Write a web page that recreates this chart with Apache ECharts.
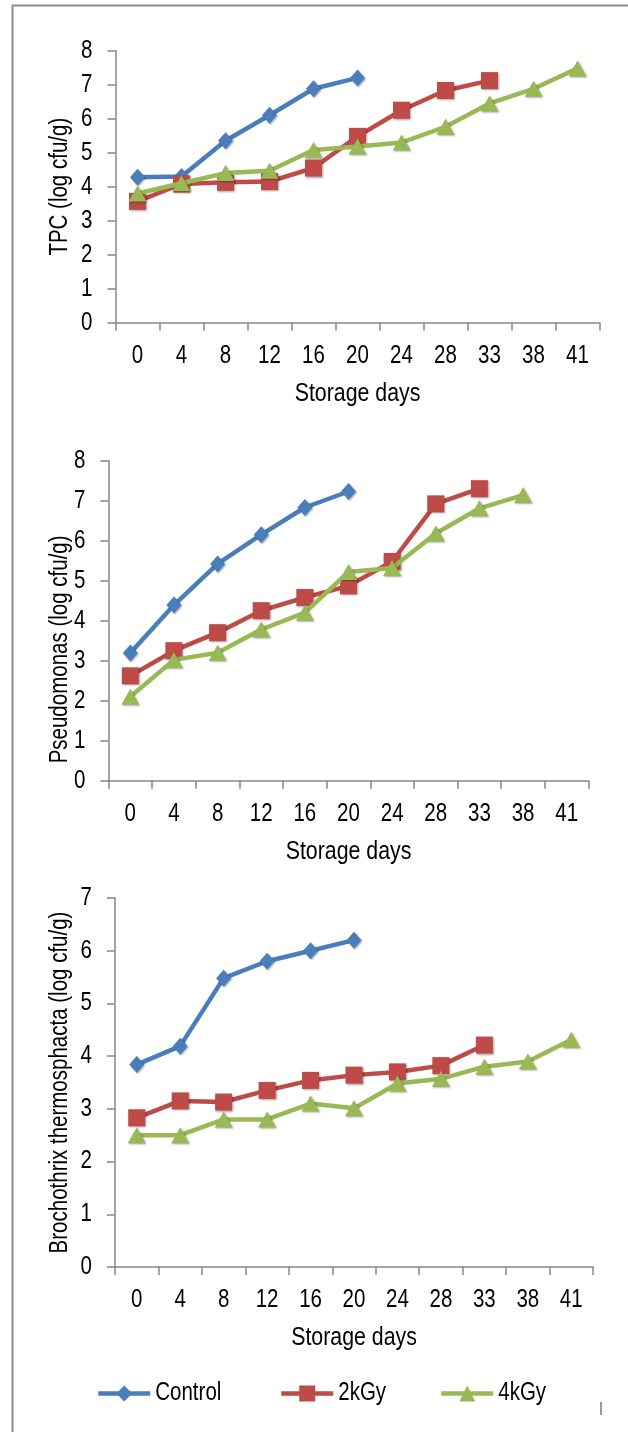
<!DOCTYPE html>
<html>
<head>
<meta charset="utf-8">
<script src="https://cdn.jsdelivr.net/npm/echarts@6/dist/echarts.min.js"></script>
<style>
html,body{margin:0;padding:0;background:#fff;}
#c{width:628px;height:1432px;}
</style>
</head>
<body>
<div id="c"></div>
<script>
// ---- data ----
const days = ['0','4','8','12','16','20','24','28','33','38','41'];
const seriesNames = ['Control','2kGy','4kGy'];

const tpcControl = [4.28, 4.30, 5.35, 6.10, 6.88, 7.20];
const tpc2kGy    = [3.57, 4.08, 4.13, 4.15, 4.55, 5.48, 6.25, 6.83, 7.12];
const tpc4kGy    = [3.80, 4.10, 4.40, 4.47, 5.08, 5.18, 5.30, 5.76, 6.45, 6.88, 7.48];

const psControl = [3.19, 4.39, 5.42, 6.15, 6.83, 7.23];
const ps2kGy    = [2.62, 3.25, 3.70, 4.25, 4.58, 4.87, 5.48, 6.92, 7.30];
const ps4kGy    = [2.10, 3.02, 3.20, 3.78, 4.20, 5.22, 5.32, 6.18, 6.81, 7.14];

const btControl = [3.84, 4.19, 5.48, 5.80, 6.00, 6.20];
const bt2kGy    = [2.83, 3.15, 3.13, 3.35, 3.54, 3.64, 3.70, 3.82, 4.21];
const bt4kGy    = [2.50, 2.50, 2.80, 2.80, 3.10, 3.01, 3.48, 3.57, 3.80, 3.90, 4.31];

const yTitles = ['TPC (log cfu/g)', 'Pseudomonas (log cfu/g)', 'Brochothrix thermosphacta (log cfu/g)'];
const xTitle = 'Storage days';
const yMax = [8, 8, 7];

// ---- styles ----
const FONT = "'Liberation Sans', Arial, sans-serif";
const FS = 25;
const AX = '#868686';
const colors = ['#4a7ebb', '#be4b48', '#98b954'];
const symbols = ['diamond', 'rect', 'triangle'];
const symSizes = [[15,17],[17,17],[18,16]];
const yNamePad = [[0,0,0,0],[0,70,0,0],[0,0,0,0]];
const yNameGap = [43, 36, 42.5];

const grids = [
  {left:115.5, width:484, top:50.7, height:272},
  {left:108.5, width:480, top:460.7, height:320},
  {left:115, width:478, top:898, height:369}
];

const xAxes = [], yAxes = [], series = [];
const dataSets = [[tpcControl,tpc2kGy,tpc4kGy],[psControl,ps2kGy,ps4kGy],[btControl,bt2kGy,bt4kGy]];

for (let g = 0; g < 3; g++) {
  xAxes.push({
    type:'category', gridIndex:g, data:days, boundaryGap:true,
    name:xTitle, nameLocation:'middle', nameGap:58, nameMoveOverlap:false,
    nameTextStyle:{fontFamily:FONT, fontSize:26, color:'#000'},
    axisLine:{lineStyle:{color:AX, width:1.5}},
    axisTick:{show:true, length:8, inside:false, lineStyle:{color:AX, width:1.5}},
    axisLabel:{fontFamily:FONT, fontSize:FS, color:'#000', margin:21, interval:0},
    splitLine:{show:false}
  });
  yAxes.push({
    type:'value', gridIndex:g, min:0, max:yMax[g], interval:1,
    name:yTitles[g], nameLocation:'middle', nameGap:yNameGap[g], nameRotate:90, nameMoveOverlap:false,
    nameTextStyle:{fontFamily:FONT, fontSize:FS, color:'#000', padding:yNamePad[g]},
    axisLine:{show:true, lineStyle:{color:AX, width:1.5}},
    axisTick:{show:true, length:8, lineStyle:{color:AX, width:1.5}},
    axisLabel:{fontFamily:FONT, fontSize:FS, color:'#000', margin:23},
    splitLine:{show:false}
  });
  for (let s = 0; s < 3; s++) {
    series.push({
      name:seriesNames[s], type:'line', xAxisIndex:g, yAxisIndex:g,
      data:dataSets[g][s],
      symbol:symbols[s], symbolSize:symSizes[s],
      lineStyle:{color:colors[s], width:4.5},
      itemStyle:{color:colors[s], shadowColor:'rgba(0,0,0,0.35)', shadowBlur:2, shadowOffsetX:1, shadowOffsetY:1},
      animation:false, z:2+s
    });
  }
}

const legendBase = {
  orient:'horizontal', top:1381, itemWidth:52, itemHeight:20, itemGap:10, padding:0,
  textStyle:{fontFamily:FONT, fontSize:FS, color:'#000'},
  lineStyle:{width:4.5},
  selectedMode:false
};
const legends = [
  Object.assign({}, legendBase, {left:96, data:['Control']}),
  Object.assign({}, legendBase, {left:279, data:['2kGy']}),
  Object.assign({}, legendBase, {left:439, data:['4kGy']})
];

const chart = echarts.init(document.getElementById('c'), null, {renderer:'canvas'});
chart.setOption({
  animation:false,
  backgroundColor:'#fff',
  grid:grids,
  xAxis:xAxes,
  yAxis:yAxes,
  legend:legends,
  series:series,
  graphic:[
    {type:'polyline', shape:{points:[[12.5,1432],[12.5,5.5],[628,5.5]]}, style:{stroke:'#8a8a8a', lineWidth:2, fill:null}},
    {type:'line', shape:{x1:601,y1:1402,x2:601,y2:1415}, style:{stroke:'#9a9a9a', lineWidth:2}}
  ]
});

// narrow the text horizontally (Arial Narrow look), keeping each label's anchor
function narrowText(){
  const zr = chart.getZr();
  let changed = false;
  zr.storage.traverse(function(el){
    if (el.type === 'text' && !el.__narrowed) {
      el.__narrowed = true;
      el.originX = (el.style && el.style.x) || 0;
      el.originY = (el.style && el.style.y) || 0;
      el.scaleX = (el.scaleX || 1) * 0.82;
      el.markRedraw && el.markRedraw();
      changed = true;
    }
  });
  if (changed) zr.refresh();
}
narrowText();
chart.on('finished', narrowText);
</script>
</body>
</html>
